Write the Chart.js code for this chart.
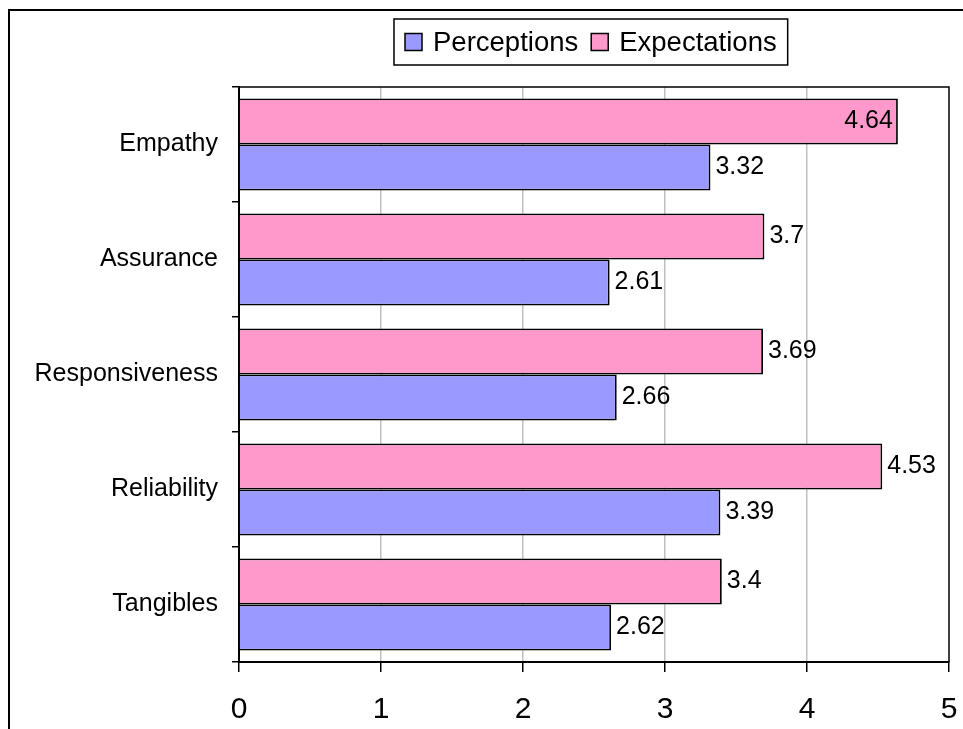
<!DOCTYPE html>
<html>
<head>
<meta charset="utf-8">
<script src="https://cdn.jsdelivr.net/npm/chart.js@4/dist/chart.umd.min.js"></script>
<style>
  html, body { margin: 0; padding: 0; background: #ffffff; }
  #wrap { width: 963px; height: 729px; position: relative; }
</style>
</head>
<body>
<div id="wrap"><canvas id="c" width="963" height="729"></canvas></div>
<script>
// SERVQUAL dimensions, top to bottom
const categories = ['Empathy', 'Assurance', 'Responsiveness', 'Reliability', 'Tangibles'];
const perceptions = [3.32, 2.61, 2.66, 3.39, 2.62];
const expectations = [4.64, 3.7, 3.69, 4.53, 3.4];
const xTickValues = [0, 1, 2, 3, 4, 5];

const FONT = 'Arial, "Liberation Sans", sans-serif';
const PINK = '#ff99cc';
const BLUE = '#9999ff';

// Outer frame, plot frame, value labels and boxed legend
const decorations = {
  id: 'decorations',
  beforeDraw(chart) {
    const ctx = chart.ctx;
    ctx.save();
    ctx.fillStyle = '#ffffff';
    ctx.fillRect(0, 0, chart.width, chart.height);
    ctx.restore();
  },
  afterDatasetsDraw(chart) {
    const ctx = chart.ctx;
    const area = chart.chartArea;
    ctx.save();

    // plot frame (top and right edges)
    ctx.strokeStyle = '#000';
    ctx.lineWidth = 1.5;
    ctx.beginPath();
    ctx.moveTo(area.left, area.top);
    ctx.lineTo(area.right, area.top);
    ctx.lineTo(area.right, area.bottom);
    ctx.stroke();

    // value labels
    ctx.font = '25px ' + FONT;
    ctx.fillStyle = '#000';
    ctx.textBaseline = 'middle';
    chart.data.datasets.forEach((ds, di) => {
      const meta = chart.getDatasetMeta(di);
      meta.data.forEach((bar, i) => {
        const txt = String(ds.data[i]);
        const w = ctx.measureText(txt).width;
        if (bar.x + 5 + w > area.right) {
          ctx.textAlign = 'right';
          ctx.fillText(txt, bar.x - 5, bar.y);
        } else {
          ctx.textAlign = 'left';
          ctx.fillText(txt, bar.x + 5, bar.y);
        }
      });
    });

    // outer chart frame
    ctx.lineWidth = 2;
    ctx.beginPath();
    ctx.moveTo(9, chart.height + 2);
    ctx.lineTo(9, 10);
    ctx.lineTo(chart.width + 2, 10);
    ctx.stroke();

    // legend (Perceptions first)
    const items = [
      { label: chart.data.datasets[1].label, color: chart.data.datasets[1].backgroundColor },
      { label: chart.data.datasets[0].label, color: chart.data.datasets[0].backgroundColor }
    ];
    ctx.font = '27.5px ' + FONT;
    const sq = 17, padIn = 11, gapText = 11, gapItem = 13;
    let total = padIn * 2;
    items.forEach((it, k) => {
      it.w = ctx.measureText(it.label).width;
      total += sq + gapText + it.w + (k < items.length - 1 ? gapItem : 0);
    });
    const boxTop = 19, boxH = 46;
    const boxLeft = 394;
    ctx.fillStyle = '#fff';
    ctx.fillRect(boxLeft, boxTop, total, boxH);
    ctx.lineWidth = 1.5;
    ctx.strokeStyle = '#000';
    ctx.strokeRect(boxLeft, boxTop, total, boxH);
    let x = boxLeft + padIn;
    const cy = boxTop + boxH / 2;
    items.forEach((it) => {
      ctx.fillStyle = it.color;
      ctx.fillRect(x, cy - sq / 2, sq, sq);
      ctx.lineWidth = 1.5;
      ctx.strokeStyle = '#000';
      ctx.strokeRect(x, cy - sq / 2, sq, sq);
      x += sq + gapText;
      ctx.fillStyle = '#000';
      ctx.textAlign = 'left';
      ctx.textBaseline = 'middle';
      ctx.fillText(it.label, x, cy + 1);
      x += it.w + gapItem;
    });
    ctx.restore();
  }
};

new Chart(document.getElementById('c'), {
  type: 'bar',
  data: {
    labels: categories,
    datasets: [
      {
        label: 'Expectations',
        data: expectations,
        backgroundColor: PINK,
        borderColor: '#000',
        borderWidth: 1.8,
        categoryPercentage: 0.8,
        barPercentage: 1.0
      },
      {
        label: 'Perceptions',
        data: perceptions,
        backgroundColor: BLUE,
        borderColor: '#000',
        borderWidth: 1.8,
        categoryPercentage: 0.8,
        barPercentage: 1.0
      }
    ]
  },
  options: {
    indexAxis: 'y',
    responsive: false,
    animation: false,
    devicePixelRatio: 1,
    layout: { padding: { top: 87, right: 14, left: 0, bottom: 0 } },
    plugins: {
      legend: { display: false },
      tooltip: { enabled: false },
      title: { display: false }
    },
    scales: {
      x: {
        type: 'linear',
        min: xTickValues[0],
        max: xTickValues[xTickValues.length - 1],
        afterBuildTicks(scale) {
          scale.ticks = xTickValues.map(v => ({ value: v }));
        },
        ticks: {
          color: '#000',
          font: { size: 30, family: FONT },
          padding: 20
        },
        grid: {
          color: (c) => (c.tick && (c.tick.value === 0 || c.tick.value === 5)) ? 'rgba(0,0,0,0)' : '#c0c0c0',
          lineWidth: 1.5,
          tickColor: '#000',
          tickLength: 10,
          drawTicks: true
        },
        border: { display: true, color: '#000', width: 2 },
        afterFit(scale) {
          scale.height = 67;
          scale.paddingLeft = 0;
          scale.paddingRight = 0;
        }
      },
      y: {
        grid: {
          offset: true,
          drawOnChartArea: false,
          tickColor: '#000',
          tickLength: 7,
          lineWidth: 1.5
        },
        ticks: {
          color: '#000',
          font: { size: 25, family: FONT },
          padding: 14
        },
        border: { display: true, color: '#000', width: 2 },
        afterFit(scale) {
          scale.width = 239;
          scale.paddingTop = 0;
          scale.paddingBottom = 0;
        }
      }
    }
  },
  plugins: [decorations]
});
</script>
</body>
</html>
